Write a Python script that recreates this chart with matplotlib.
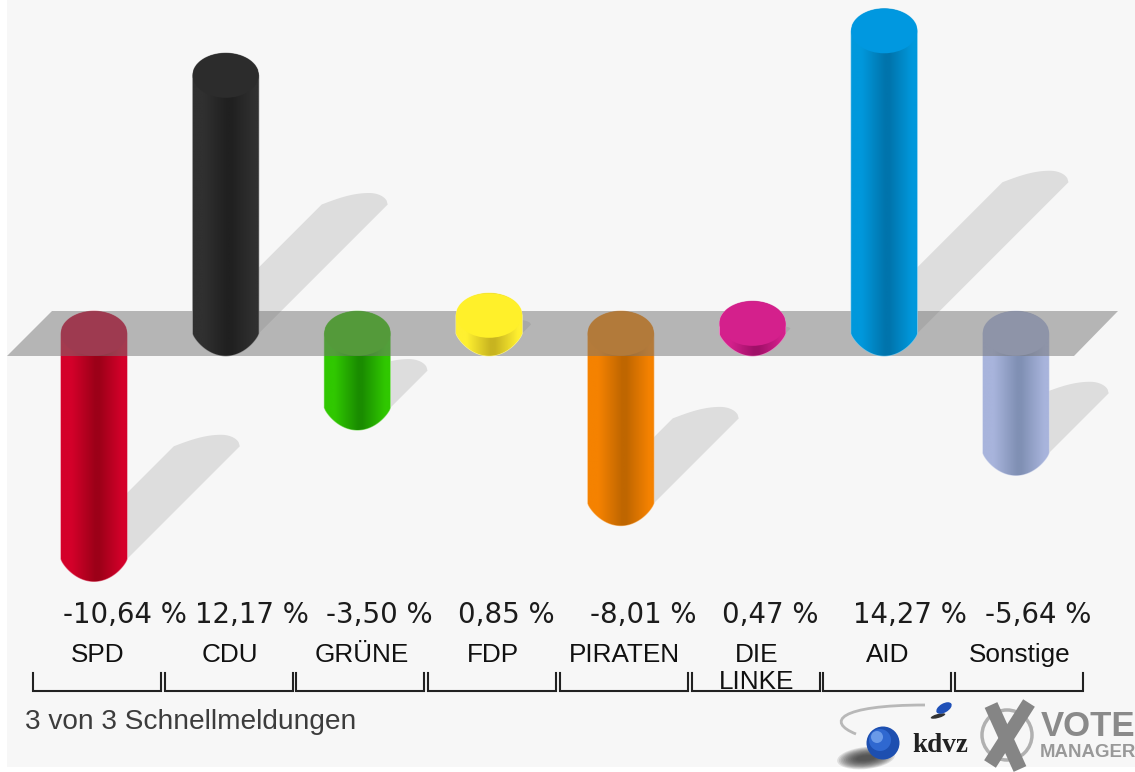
import numpy as np
import matplotlib
matplotlib.use("Agg")
import matplotlib.pyplot as plt
from matplotlib.patches import Polygon, PathPatch, Ellipse, Rectangle, Circle
from matplotlib.path import Path
from matplotlib.transforms import Affine2D
from matplotlib.colors import LinearSegmentedColormap, to_rgb

categories = ["SPD", "CDU", "GRÜNE", "FDP", "PIRATEN", "DIE\nLINKE", "AID", "Sonstige"]
values = [-10.64, 12.17, -3.50, 0.85, -8.01, 0.47, 14.27, -5.64]
edge_colors = ["#d4002a", "#303030", "#30c800", "#fff030", "#f58200", "#d4208c", "#0098dc", "#a8b4dc"]
dark_colors = ["#9c0018", "#202020", "#1a8c00", "#c8b420", "#bf6600", "#a01068", "#0074ac", "#8090b4"]
cap_colors = ["#c8002c", "#2c2c2c", "#34c000", "#fff02a", "#f08000", "#d4208c", "#0098e0", "#a8b4dc"]
footnote = "3 von 3 Schnellmeldungen"

W, H = 1135, 772
X0, XS = 94.0, 131.7     # pixel of category 0, pixels per category
Y0, YS = 333.5, 21.2     # pixel of value 0, pixels per unit
HALF_W = 33.0 / XS
CAP_H = 22.3 / YS

fig = plt.figure(figsize=(W / 100, H / 100), dpi=100, facecolor="#ffffff")
ax = fig.add_axes([0, 0, 1, 1])
ax.set_axis_off()
xlim = (-X0 / XS, (W - X0) / XS)
ylim = ((Y0 - H) / YS, Y0 / YS)
ax.set_xlim(xlim)
ax.set_ylim(ylim)
ax.set_autoscale_on(False)
tpx = Affine2D().scale(1, -1).translate(0, H)   # decoration drawn in image pixels


def py(p):
    return (Y0 - p) / YS


ax.add_patch(Rectangle((7, 0), W - 7, 767, transform=tpx, fc="#f7f7f7", ec="none", zorder=0))

t = np.linspace(-1, 1, 61)

# cast shadows
for i, v in enumerate(values):
    L = abs(v) * YS * 0.5          # pixels of diagonal travel
    base = min(v, 0)
    dx, dy = L / XS, L / YS
    s = np.linspace(0, 1, 60)
    peak = 0.72
    prof = np.where(s < peak,
                    np.sin(np.pi / 2 * s / peak),
                    np.sqrt(np.clip(1 - ((s - peak) / (1 - peak)) ** 2, 0, 1)))
    bump = 11.5 * prof / YS * min(1, L / 20)
    tx = i - HALF_W + 2 * HALF_W * s + dx
    ty = base + dy + bump
    xs = np.r_[i + HALF_W, i - HALF_W, tx, i + HALF_W]
    ys = np.r_[base, base, ty, base]
    ax.add_patch(Polygon(np.c_[xs, ys], closed=True, fc="#dddddd", ec="none", zorder=1))


def draw_bar(i, v, z):
    top = max(v, 0)
    low = min(v, 0)
    xa = i + HALF_W * t
    upper = top + CAP_H * np.sqrt(1 - t ** 2)
    lower = low - CAP_H * (1 - t ** 2) ** 0.8
    vx = np.r_[xa, xa[::-1], xa[0]]
    vy = np.r_[upper, lower[::-1], upper[0]]
    rim = tuple(0.55 * np.array(to_rgb(edge_colors[i])) + 0.45)
    body = PathPatch(Path(np.c_[vx, vy]), fc="none", ec=rim, lw=0.8, zorder=z - 0.1)
    ax.add_patch(body)
    cmap = LinearSegmentedColormap.from_list(
        f"bar{i}",
        [(0, edge_colors[i]), (0.16, edge_colors[i]), (0.52, dark_colors[i]),
         (0.58, dark_colors[i]), (0.93, edge_colors[i]), (1, edge_colors[i])],
    )
    grad = np.linspace(0, 1, 256).reshape(1, -1)
    im = ax.imshow(grad, cmap=cmap, aspect="auto", zorder=z, interpolation="bilinear",
                   extent=(i - HALF_W, i + HALF_W, lower.min() - 0.1, upper.max() + 0.1))
    im.set_clip_path(body)
    ax.add_patch(Ellipse((i, top), 2 * HALF_W, 2 * CAP_H, fc=cap_colors[i], ec="none", zorder=z + 0.1))


for i, v in enumerate(values):
    if v < 0:
        draw_bar(i, v, 2)

# grey floor
ax.add_patch(Polygon([(7, 356), (52, 311), (1118, 311), (1074, 356)], transform=tpx,
                     fc=(0.46, 0.46, 0.46, 0.5), ec="none", zorder=3))

for i, v in enumerate(values):
    if v >= 0:
        draw_bar(i, v, 4)

ax.set_xlim(xlim)
ax.set_ylim(ylim)

# value labels and category labels
for i, (c, v) in enumerate(zip(categories, values)):
    label = f"{v:.2f} %".replace(".", ",")
    ax.text(i - 0.235, py(615), label, ha="left", va="center", fontsize=19.9,
            family="DejaVu Sans", color="#1c1c1c", zorder=6)
    ax.text(i + 0.03, py(643), c, ha="center", va="top", fontsize=18.8,
            family="Liberation Sans", color="#111111", zorder=6, linespacing=1.15)
    left = i - 0.463
    ax.plot([left, left, left + 0.972, left + 0.972], [py(673), py(691), py(691), py(673)],
            color="#222222", lw=1.5, solid_joinstyle="miter", zorder=6)

ax.text(25, 722, footnote, transform=tpx, ha="left", va="center", fontsize=20.2,
        family="Liberation Sans", color="#3c3c3c", zorder=6)

# kdvz logo
for k in range(12):
    ax.add_patch(Ellipse((866, 758), 58 - 3.5 * k, 22 - 1.5 * k, angle=-6, transform=tpx,
                         fc="#333333", ec="none", zorder=5, alpha=0.13))
arc = Path([(856, 734), (826, 722), (838, 705), (925, 705)],
           [Path.MOVETO, Path.CURVE4, Path.CURVE4, Path.CURVE4])
ax.add_patch(PathPatch(arc, transform=tpx, fc="none", ec="#b8b8b8", lw=2.0, zorder=5))
ax.add_patch(Circle((883, 743), 16.5, transform=tpx, fc="#1d4fb0", ec="none", zorder=5.5))
ax.add_patch(Circle((880, 740), 11, transform=tpx, fc="#2f68d0", ec="none", zorder=5.6))
ax.add_patch(Circle((877, 737), 6, transform=tpx, fc="#6a9ae8", ec="none", zorder=5.7))
ax.add_patch(Ellipse((944, 708), 17, 9, angle=-30, transform=tpx, fc="#1f50b8", ec="none", zorder=5.5))
ax.add_patch(Ellipse((938, 716), 15, 4, angle=-15, transform=tpx, fc="#333333", ec="none", zorder=5.4))
ax.text(940, 745, "kdvz", transform=tpx, ha="center", va="center", fontsize=19.5,
        family="Liberation Serif", weight="bold", color="#222222", zorder=6)

# VOTE MANAGER logo
ax.add_patch(Circle((1007, 735), 25, transform=tpx, fc="none", ec="#b0b0b0", lw=2.5, zorder=5))
ax.plot([991, 1020], [705, 769], transform=tpx, color="#858585", lw=10, solid_capstyle="butt", zorder=5.2)
ax.plot([1029, 990], [703, 764], transform=tpx, color="#858585", lw=10, solid_capstyle="butt", zorder=5.2)
ax.text(1041, 736, "VOTE", transform=tpx, ha="left", va="baseline", fontsize=25,
        family="Liberation Sans", weight="bold", color="#8a8a8a", zorder=6)
ax.text(1040, 757, "MANAGER", transform=tpx, ha="left", va="baseline", fontsize=13.4,
        family="Liberation Sans", weight="bold", color="#999999", zorder=6)

fig.savefig("out.png", dpi=100, facecolor=fig.get_facecolor())
